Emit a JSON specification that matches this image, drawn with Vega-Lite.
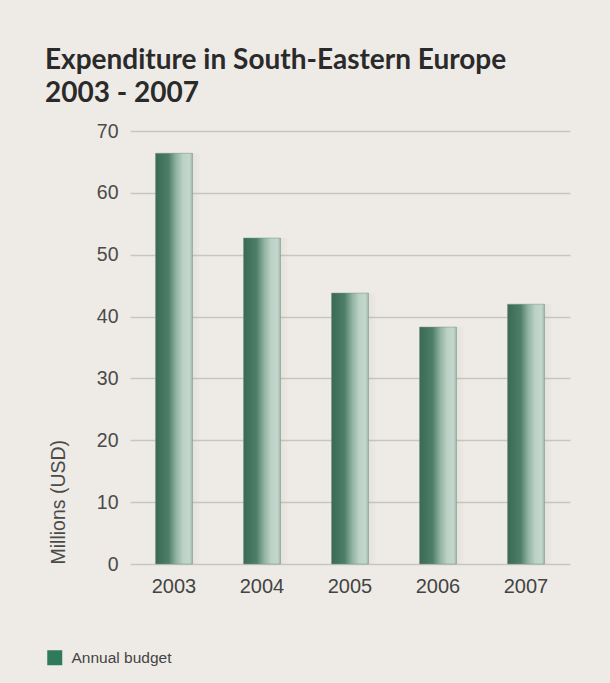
{
  "$schema": "https://vega.github.io/schema/vega-lite/v6.json",
  "autosize": {"type": "none"},
  "width": 440,
  "height": 433,
  "padding": {"left": 130, "top": 131, "right": 40, "bottom": 119},
  "background": "#eeebe6",
  "title": {
    "text": "Expenditure in South-Eastern Europe",
    "subtitle": "2003 - 2007",
    "anchor": "start",
    "frame": "bounds",
    "font": "Lato",
    "fontSize": 28,
    "fontWeight": 700,
    "color": "#2a2a2a",
    "subtitleFont": "Lato",
    "subtitleFontSize": 28,
    "subtitleFontWeight": 700,
    "subtitleColor": "#2a2a2a",
    "subtitlePadding": 5,
    "offset": 13,
    "dx": -2
  },
  "data": {
    "values": [
      {"year": "2003", "value": 66.4, "series": "Annual budget"},
      {"year": "2004", "value": 52.7, "series": "Annual budget"},
      {"year": "2005", "value": 43.8, "series": "Annual budget"},
      {"year": "2006", "value": 38.3, "series": "Annual budget"},
      {"year": "2007", "value": 42.0, "series": "Annual budget"}
    ]
  },
  "config": {
    "view": {"stroke": null},
    "axis": {"labelFont": "Liberation Sans", "titleFont": "Liberation Sans"}
  },
  "encoding": {
    "x": {
      "field": "year",
      "type": "nominal",
      "scale": {"paddingInner": 0.58, "paddingOuter": 0.29},
      "axis": {
        "title": null,
        "labelAngle": 0,
        "labelFontSize": 20,
        "labelColor": "#444444",
        "labelPadding": 12,
        "domain": false,
        "ticks": false
      }
    },
    "y": {
      "field": "value",
      "type": "quantitative",
      "scale": {"domain": [0, 70]},
      "axis": {
        "title": "Millions (USD)",
        "titleFontSize": 19.5,
        "titleFontWeight": "normal",
        "titleColor": "#4a4a4a",
        "titleAnchor": "start",
        "titlePadding": 28,
        "values": [0, 10, 20, 30, 40, 50, 60, 70],
        "labelFontSize": 19.5,
        "labelColor": "#4a4a4a",
        "labelPadding": 12,
        "domain": false,
        "ticks": false,
        "gridColor": "#c9c5bf",
        "gridWidth": 1.5
      }
    }
  },
  "layer": [
    {
      "mark": {
        "type": "bar",
        "xOffset": 9,
        "fill": {
          "gradient": "linear",
          "x1": 0, "x2": 1, "y1": 0, "y2": 0,
          "stops": [
            {"offset": 0, "color": "rgba(160,155,150,0.45)"},
            {"offset": 1, "color": "rgba(160,155,150,0)"}
          ]
        }
      }
    },
    {
      "mark": {
        "type": "bar",
        "fill": {
          "gradient": "linear",
          "x1": 0, "x2": 1, "y1": 0, "y2": 0,
          "stops": [
            {"offset": 0, "color": "#3b6a54"},
            {"offset": 0.35, "color": "#4d7e67"},
            {"offset": 0.55, "color": "#8fb0a0"},
            {"offset": 0.75, "color": "#bcd2c7"},
            {"offset": 0.92, "color": "#c3d6cc"},
            {"offset": 1, "color": "#9fb8ab"}
          ]
        },
        "stroke": "#6f9483",
        "strokeWidth": 0.5
      }
    },
    {
      "mark": {"type": "bar", "opacity": 0},
      "encoding": {
        "color": {
          "field": "series",
          "type": "nominal",
          "scale": {"range": ["#2f7a5a"]},
          "legend": {
            "title": null,
            "orient": "none",
            "legendX": -83,
            "legendY": 519,
            "symbolType": "square",
            "symbolSize": 225,
            "symbolOpacity": 1,
            "symbolStrokeWidth": 0,
            "labelFont": "Liberation Sans",
            "labelFontSize": 15.5,
            "labelColor": "#444444",
            "labelOffset": 9
          }
        }
      }
    }
  ]
}
